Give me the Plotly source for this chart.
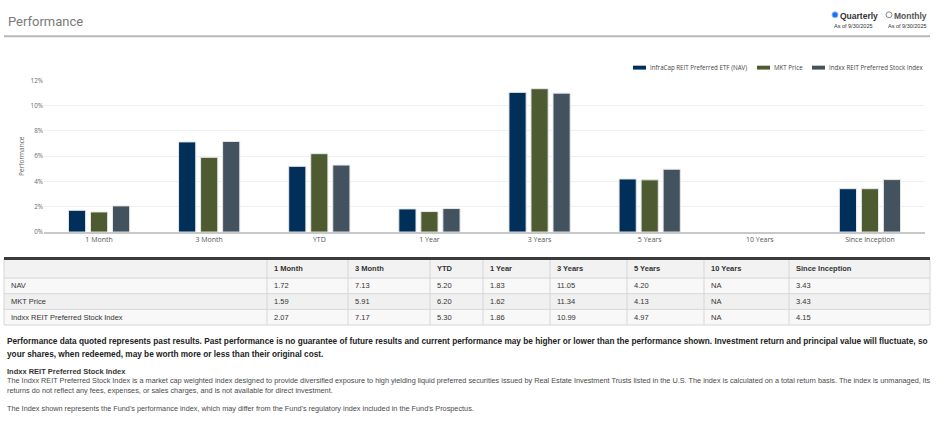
import plotly.graph_objects as go

W, H = 936, 422

categories = ["1 Month", "3 Month", "YTD", "1 Year", "3 Years", "5 Years", "10 Years", "Since Inception"]
nav = [1.72, 7.13, 5.20, 1.83, 11.05, 4.20, None, 3.43]
mkt = [1.59, 5.91, 6.20, 1.62, 11.34, 4.13, None, 3.43]
idx = [2.07, 7.17, 5.30, 1.86, 10.99, 4.97, None, 4.15]

series_names = ["InfraCap REIT Preferred ETF (NAV)", "MKT Price", "Indxx REIT Preferred Stock Index"]
row_labels = ["NAV", "MKT Price", "Indxx REIT Preferred Stock Index"]
colors = ["#00305A", "#4E5B30", "#43525F"]


def px(x):
    return x / W


def py(y):
    return 1 - y / H


fig = go.Figure()
for name, vals, c in zip(series_names, [nav, mkt, idx], colors):
    fig.add_trace(go.Bar(
        x=categories, y=vals, name=name,
        marker=dict(color=c, line=dict(color="#e8e8e8", width=1)),
        hoverinfo="skip", showlegend=False,
    ))


def fmt(v):
    return "NA" if v is None else f"{v:.2f}"


ann = []
shapes = []

# ---- Table (built from the data arrays) ----
col_edges = [4, 267, 348, 430, 483, 550, 627, 704, 789, 930]
row_edges = [260, 279, 295, 311, 327]
row_fills = ["#f2f2f2", "#f8f8f8", "#f0f0f0", "#f8f8f8"]
for r in range(4):
    shapes.append(dict(type="rect", xref="paper", yref="paper", layer="below",
                       x0=px(col_edges[0]), x1=px(col_edges[-1]), y0=py(row_edges[r + 1]), y1=py(row_edges[r]),
                       fillcolor=row_fills[r], line=dict(width=0)))
for yy in row_edges[1:]:
    shapes.append(dict(type="line", xref="paper", yref="paper", x0=px(col_edges[0]), x1=px(col_edges[-1]),
                       y0=py(yy), y1=py(yy), line=dict(color="#d6d6d6", width=1)))
for xx in col_edges:
    shapes.append(dict(type="line", xref="paper", yref="paper", x0=px(xx), x1=px(xx),
                       y0=py(row_edges[-1]), y1=py(row_edges[0]), line=dict(color="#d6d6d6", width=1)))

table_rows = [[""] + [f"<b>{c}</b>" for c in categories]]
for lab, s in zip(row_labels, (nav, mkt, idx)):
    table_rows.append([lab] + [fmt(v) for v in s])
for r, row in enumerate(table_rows):
    yc = (row_edges[r] + row_edges[r + 1]) / 2
    for c, txt in enumerate(row):
        if not txt:
            continue
        ann.append(dict(x=px(col_edges[c] + 5), y=py(yc), xref="paper", yref="paper",
                        xanchor="left", yanchor="middle", text=txt, showarrow=False,
                        font=dict(family="Liberation Sans", size=7.5, color="#333")))

# Table top border
shapes.append(dict(type="line", xref="paper", yref="paper", x0=px(4), x1=px(930), y0=py(259), y1=py(259),
                   line=dict(color="#3a3a3a", width=3)))

# Title
ann.append(dict(x=px(6), y=py(17), xref="paper", yref="paper", xanchor="left", yanchor="middle",
                text="Performance", showarrow=False,
                font=dict(family="Roboto", size=13, color="#7a7a7a")))
shapes.append(dict(type="line", xref="paper", yref="paper", x0=px(4), x1=px(930), y0=py(32), y1=py(32),
                   line=dict(color="#b8b8b8", width=2)))

# Radio buttons
shapes.append(dict(type="circle", xref="paper", yref="paper", x0=px(832), x1=px(838), y0=py(13), y1=py(7),
                   fillcolor="#1a73e8", line=dict(color="#8ab4f8", width=1)))
shapes.append(dict(type="circle", xref="paper", yref="paper", x0=px(886), x1=px(892), y0=py(13), y1=py(7),
                   fillcolor="white", line=dict(color="#888", width=1)))
ann.append(dict(x=px(838), y=py(11), xref="paper", yref="paper", xanchor="left", yanchor="middle",
                text="<b>Quarterly</b>", showarrow=False, font=dict(family="Liberation Sans", size=8.5, color="#333")))
ann.append(dict(x=px(892), y=py(11), xref="paper", yref="paper", xanchor="left", yanchor="middle",
                text="<b>Monthly</b>", showarrow=False, font=dict(family="Liberation Sans", size=8.5, color="#555")))
ann.append(dict(x=px(832), y=py(21), xref="paper", yref="paper", xanchor="left", yanchor="middle",
                text="As of 9/30/2025", showarrow=False, font=dict(family="Liberation Sans", size=5.5, color="#333")))
ann.append(dict(x=px(886), y=py(21), xref="paper", yref="paper", xanchor="left", yanchor="middle",
                text="As of 9/30/2025", showarrow=False, font=dict(family="Liberation Sans", size=5.5, color="#333")))

# Legend (drawn manually to match the wide, flat swatches)
leg_x = [633, 757, 812]
for lx, name, c in zip(leg_x, series_names, colors):
    shapes.append(dict(type="rect", xref="paper", yref="paper", x0=px(lx), x1=px(lx + 13), y0=py(66), y1=py(62),
                       fillcolor=c, line=dict(width=0)))
    ann.append(dict(x=px(lx + 15), y=py(64), xref="paper", yref="paper", xanchor="left", yanchor="middle",
                    text=name, showarrow=False, font=dict(family="Open Sans", size=6.2, color="#444")))

# Bottom text
bold1 = ("Performance data quoted represents past results. Past performance is no guarantee of future results and current "
         "performance may be higher or lower than the performance shown. Investment return and principal value will fluctuate, so")
bold2 = "your shares, when redeemed, may be worth more or less than their original cost."
for yy, t in [(344, bold1), (357, bold2)]:
    ann.append(dict(x=px(5), y=py(yy), xref="paper", yref="paper", xanchor="left", yanchor="middle",
                    text=f"<b>{t}</b>", showarrow=False,
                    font=dict(family="Liberation Sans", size=8.25, color="#222")))
ann.append(dict(x=px(5), y=py(374), xref="paper", yref="paper", xanchor="left", yanchor="middle",
                text="<b>Indxx REIT Preferred Stock Index</b>", showarrow=False,
                font=dict(family="Liberation Sans", size=7.5, color="#333")))
d1 = ("The Indxx REIT Preferred Stock Index is a market cap weighted index designed to provide diversified exposure to high yielding "
      "liquid preferred securities issued by Real Estate Investment Trusts listed in the U.S. The index is calculated on a total return "
      "basis. The index is unmanaged, its")
d2 = "returns do not reflect any fees, expenses, or sales charges, and is not available for direct investment."
d3 = ("The Index shown represents the Fund's performance index, which may differ from the Fund's regulatory index included in "
      "the Fund's Prospectus.")
for yy, t in [(384, d1), (394, d2), (412, d3)]:
    ann.append(dict(x=px(5), y=py(yy), xref="paper", yref="paper", xanchor="left", yanchor="middle",
                    text=t, showarrow=False, font=dict(family="Liberation Sans", size=7.3, color="#4a4a4a")))

fig.update_layout(
    width=W, height=H,
    margin=dict(l=0, r=0, t=0, b=0),
    paper_bgcolor="white", plot_bgcolor="white",
    barmode="group", bargap=0.4, bargroupgap=0.22,
    font=dict(family="Open Sans", size=8, color="#555"),
    xaxis=dict(domain=[px(44), px(925)], anchor="y", showline=True, linecolor="#c8c8c8", linewidth=2,
               tickfont=dict(family="Open Sans", size=7, color="#555"), ticks="", fixedrange=True),
    yaxis=dict(domain=[py(232), py(77)], range=[0, 12], dtick=2, ticksuffix="%",
               showgrid=True, gridcolor="#efefef", gridwidth=1, zeroline=False,
               tickfont=dict(family="Open Sans", size=6.3, color="#666"),
               title=dict(text="Performance", font=dict(family="Open Sans", size=6.5, color="#666"), standoff=5)),
    annotations=ann, shapes=shapes,
    showlegend=False,
)

fig.write_html("out.html", config={"displayModeBar": False},
               post_script="document.body.style.margin='0';document.body.style.overflow='hidden';")
